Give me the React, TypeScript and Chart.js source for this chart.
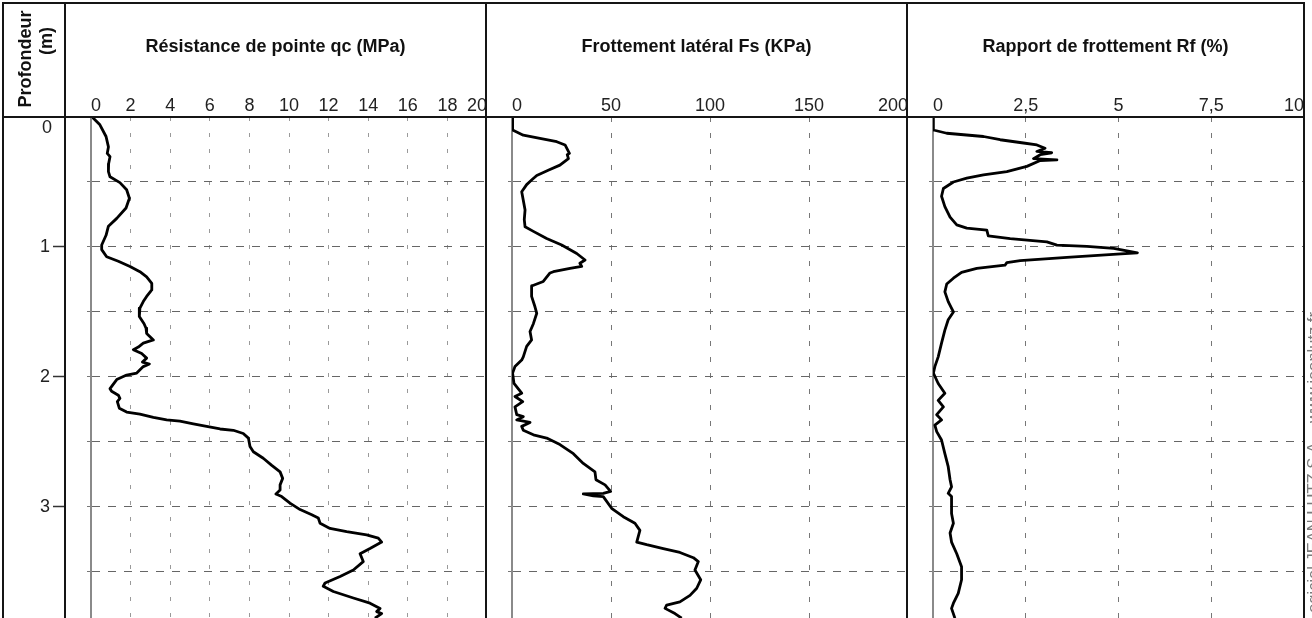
import React, { useEffect, useRef } from 'react';
import { Chart, registerables } from 'chart.js';

Chart.register(...registerables);

const FONT = "'Liberation Sans', Arial, Helvetica, sans-serif";
Chart.defaults.font.family = FONT;

// ---------- data ----------
const depthMax = 3.854;
const depthTickValues = [0, 1, 2, 3];
const depthTickLabels = ['0', '1', '2', '3'];

const qcTickLabels = ['0', '2', '4', '6', '8', '10', '12', '14', '16', '18', '20'];
const fsTickLabels = ['0', '50', '100', '150', '200'];
const rfTickLabels = ['0', '2,5', '5', '7,5', '10'];

const titles = [
  'Résistance de pointe qc (MPa)',
  'Frottement latéral Fs (KPa)',
  'Rapport de frottement Rf (%)',
];

const qcDepth = [0, 0.01, 0.06, 0.15, 0.23, 0.28, 0.305, 0.36, 0.42, 0.46, 0.505, 0.56, 0.625, 0.7, 0.78, 0.84, 0.91, 0.985, 1.02, 1.075, 1.11, 1.15, 1.19, 1.23, 1.28, 1.33, 1.38, 1.42, 1.47, 1.535, 1.59, 1.625, 1.665, 1.715, 1.74, 1.77, 1.79, 1.82, 1.855, 1.885, 1.9, 1.92, 1.97, 1.985, 2.02, 2.09, 2.11, 2.14, 2.165, 2.19, 2.24, 2.27, 2.285, 2.31, 2.33, 2.34, 2.36, 2.38, 2.4, 2.41, 2.435, 2.47, 2.535, 2.575, 2.625, 2.68, 2.73, 2.78, 2.83, 2.87, 2.9, 2.92, 2.97, 3.02, 3.06, 3.085, 3.125, 3.165, 3.19, 3.215, 3.24, 3.27, 3.32, 3.36, 3.42, 3.485, 3.535, 3.585, 3.61, 3.65, 3.7, 3.74, 3.78, 3.805, 3.82, 3.855];
const qcValue = [0.1, 0.12, 0.45, 0.76, 0.88, 0.82, 0.96, 0.89, 0.88, 0.96, 1.46, 1.8, 1.94, 1.77, 1.3, 0.88, 0.76, 0.54, 0.54, 0.79, 1.38, 1.97, 2.47, 2.81, 3.07, 3.07, 2.81, 2.64, 2.47, 2.44, 2.68, 2.78, 2.81, 3.15, 2.64, 2.39, 2.14, 2.56, 2.81, 2.6, 2.95, 2.64, 2.31, 1.8, 1.3, 0.96, 1.04, 1.38, 1.46, 1.33, 1.43, 1.8, 2.47, 3.15, 3.82, 4.49, 5.17, 5.84, 6.52, 7.19, 7.69, 7.95, 8.03, 8.2, 8.7, 9.13, 9.55, 9.68, 9.55, 9.55, 9.34, 9.63, 10.05, 10.56, 11.15, 11.48, 11.57, 12.07, 12.91, 13.92, 14.51, 14.68, 14.09, 13.59, 13.75, 13.25, 12.58, 11.82, 11.73, 12.24, 13.25, 14.09, 14.6, 14.43, 14.68, 14.34];

const fsDepth = [0, 0.1, 0.14, 0.165, 0.19, 0.215, 0.28, 0.29, 0.32, 0.37, 0.41, 0.45, 0.485, 0.52, 0.575, 0.64, 0.715, 0.79, 0.845, 0.88, 0.935, 0.985, 1.05, 1.1, 1.125, 1.15, 1.165, 1.19, 1.2, 1.265, 1.3, 1.38, 1.46, 1.51, 1.59, 1.65, 1.715, 1.765, 1.845, 1.87, 1.92, 1.97, 2.05, 2.125, 2.15, 2.19, 2.23, 2.29, 2.305, 2.33, 2.35, 2.38, 2.41, 2.445, 2.47, 2.52, 2.59, 2.665, 2.73, 2.79, 2.83, 2.88, 2.895, 2.9, 2.915, 2.92, 3.01, 3.075, 3.125, 3.18, 3.27, 3.29, 3.32, 3.35, 3.39, 3.42, 3.485, 3.56, 3.625, 3.68, 3.73, 3.755, 3.78, 3.82, 3.855];
const fsValue = [0.3, 0.3, 5.7, 14.1, 22.6, 26.8, 29, 27.9, 28.5, 24.2, 18.3, 12.5, 9.9, 7.4, 4.9, 5.7, 6.6, 6.2, 6.6, 10.8, 17.5, 25.1, 32.7, 36.9, 34.3, 35.2, 29.3, 20.9, 19.2, 15.8, 9.9, 9.9, 11.6, 12.5, 10.8, 9.1, 9.9, 7.4, 5.7, 4.9, 1.5, 0.3, 1.0, 4.9, 1.5, 5.4, 1.5, 2.4, 5.7, 2.4, 9.1, 4.9, 5.7, 10.8, 17.5, 24.2, 31, 36, 41.9, 42.4, 47, 49.8, 46.1, 36, 41.1, 46.1, 50.3, 56.2, 62.1, 64.6, 63, 68, 76.4, 84.8, 91.6, 94.1, 92.4, 95.3, 93.3, 89.9, 84.8, 78.1, 77.3, 82.3, 85.7];

const rfDepth = [0, 0.1, 0.125, 0.15, 0.175, 0.2, 0.215, 0.24, 0.265, 0.275, 0.29, 0.32, 0.33, 0.335, 0.38, 0.42, 0.445, 0.47, 0.5, 0.55, 0.61, 0.69, 0.77, 0.83, 0.855, 0.87, 0.915, 0.935, 0.96, 0.985, 0.995, 1.01, 1.045, 1.055, 1.08, 1.105, 1.12, 1.14, 1.165, 1.195, 1.24, 1.285, 1.345, 1.42, 1.5, 1.56, 1.64, 1.74, 1.845, 1.92, 1.97, 2.05, 2.125, 2.18, 2.23, 2.29, 2.33, 2.37, 2.42, 2.485, 2.59, 2.69, 2.79, 2.845, 2.895, 2.92, 3.05, 3.125, 3.2, 3.27, 3.36, 3.46, 3.56, 3.665, 3.74, 3.78, 3.855];
const rfValue = [0.01, 0.01, 0.37, 1.36, 1.81, 2.44, 2.8, 3.02, 2.8, 3.2, 2.89, 2.71, 3.34, 2.89, 2.53, 1.99, 1.36, 0.91, 0.55, 0.28, 0.23, 0.32, 0.46, 0.64, 0.91, 1.45, 1.49, 2.08, 3.07, 3.34, 4.15, 4.87, 5.51, 4.96, 3.61, 2.35, 1.99, 1.94, 1.18, 0.77, 0.55, 0.37, 0.32, 0.41, 0.55, 0.41, 0.32, 0.23, 0.14, 0.05, 0.01, 0.14, 0.32, 0.14, 0.28, 0.1, 0.23, 0.05, 0.1, 0.23, 0.32, 0.41, 0.46, 0.5, 0.41, 0.5, 0.5, 0.55, 0.46, 0.5, 0.64, 0.77, 0.77, 0.68, 0.55, 0.5, 0.59];

// ---------- layout constants ----------
const HEADER = 117;
const AXIS_W = 26;

type PanelProps = {
  left: number;
  width: number;
  xMax: number;
  xStep: number;
  tickLabels: string[];
  depth: number[];
  values: number[];
  vDash: number[];
  vColor: string;
};

function Panel({ left, width, xMax, xStep, tickLabels, depth, values, vDash, vColor }: PanelProps) {
  const ref = useRef<HTMLCanvasElement>(null);
  useEffect(() => {
    if (!ref.current) return;
    const chart = new Chart(ref.current, {
      type: 'scatter',
      data: {
        datasets: [
          {
            data: depth.map((d, i) => ({ x: values[i], y: d })),
            showLine: true,
            borderColor: '#000',
            borderWidth: 2.8,
            borderJoinStyle: 'round',
            pointRadius: 0,
            pointHoverRadius: 0,
            tension: 0,
            fill: false,
          } as any,
        ],
      },
      options: {
        animation: false,
        responsive: false,
        devicePixelRatio: 1,
        events: [],
        layout: { padding: 0 },
        plugins: { legend: { display: false }, tooltip: { enabled: false }, title: { display: false } },
        scales: {
          x: {
            type: 'linear',
            position: 'top',
            min: 0,
            max: xMax,
            ticks: {
              stepSize: xStep,
              padding: 0,
              align: 'inner',
              autoSkip: false,
              maxRotation: 0,
              minRotation: 0,
              color: '#222',
              font: { family: FONT, size: 18 },
              callback: (_v: any, i: number) => tickLabels[i],
            },
            grid: { color: vColor, lineWidth: 1, drawTicks: false },
            border: { display: false, dash: vDash },
            afterFit: (s: any) => {
              s.height = HEADER;
              s.paddingLeft = 0;
              s.paddingRight = 0;
            },
          } as any,
          y: {
            type: 'linear',
            position: 'left',
            reverse: true,
            min: 0,
            max: depthMax,
            ticks: { display: false, stepSize: 0.5, includeBounds: false },
            grid: { color: '#666', lineWidth: 1, drawTicks: true, tickLength: 4, tickColor: '#777' },
            border: { display: true, color: '#8a8a8a', width: 2, dash: [8, 8] },
            afterFit: (s: any) => {
              s.width = AXIS_W;
              s.paddingTop = 0;
              s.paddingBottom = 0;
            },
          } as any,
        },
      },
    });
    return () => chart.destroy();
  }, []);
  return (
    <canvas
      ref={ref}
      width={width}
      height={618}
      style={{ position: 'absolute', left, top: 0, width, height: 618, display: 'block' }}
    />
  );
}

const zeroLabelPlugin = {
  id: 'zeroLabel',
  afterDraw(chart: any) {
    const y = chart.scales.y;
    const ctx = chart.ctx;
    ctx.save();
    ctx.fillStyle = '#222';
    ctx.font = `18px ${FONT}`;
    ctx.textAlign = 'right';
    ctx.textBaseline = 'middle';
    ctx.fillText(depthTickLabels[0], 52, y.getPixelForValue(depthTickValues[0]) + 11);
    ctx.restore();
  },
};

function DepthAxis() {
  const ref = useRef<HTMLCanvasElement>(null);
  useEffect(() => {
    if (!ref.current) return;
    const chart = new Chart(ref.current, {
      type: 'scatter',
      data: { datasets: [] },
      options: {
        animation: false,
        responsive: false,
        devicePixelRatio: 1,
        events: [],
        layout: { padding: { top: HEADER, left: 0, right: 0, bottom: 0 } },
        plugins: { legend: { display: false }, tooltip: { enabled: false } },
        scales: {
          x: { display: false, min: 0, max: 1 },
          y: {
            type: 'linear',
            position: 'left',
            reverse: true,
            min: 0,
            max: depthMax,
            afterBuildTicks: (s: any) => {
              s.ticks = depthTickValues.map((v) => ({ value: v }));
            },
            ticks: {
              padding: 3,
              color: (c: any) => (c.tick && c.tick.value === 0 ? 'rgba(0,0,0,0)' : '#222'),
              font: { family: FONT, size: 18 },
              callback: (_v: any, i: number) => depthTickLabels[i],
            },
            grid: {
              drawOnChartArea: false,
              drawTicks: true,
              tickLength: 12,
              tickWidth: 1.5,
              tickColor: (c: any) => (c.tick && c.tick.value === 0 ? 'rgba(0,0,0,0)' : '#333'),
            },
            border: { display: false },
            afterFit: (s: any) => {
              s.width = 65;
              s.paddingTop = 0;
              s.paddingBottom = 0;
            },
          } as any,
        },
      },
      plugins: [zeroLabelPlugin],
    });
    return () => chart.destroy();
  }, []);
  return (
    <canvas
      ref={ref}
      width={70}
      height={618}
      style={{ position: 'absolute', left: 0, top: 0, width: 70, height: 618, display: 'block' }}
    />
  );
}

const line = (left: number, top: number, width: number, height: number, key: string) => (
  <div key={key} style={{ position: 'absolute', left, top, width, height, background: '#151515' }} />
);

const titleStyle = (left: number, width: number): React.CSSProperties => ({
  position: 'absolute',
  left,
  width,
  top: 37,
  textAlign: 'center',
  fontFamily: FONT,
  fontWeight: 'bold',
  fontSize: 18,
  lineHeight: '18px',
  color: '#111',
  whiteSpace: 'nowrap',
});

export default function App() {
  useEffect(() => {
    document.body.style.margin = '0';
  }, []);
  return (
    <div
      style={{
        position: 'fixed',
        left: 0,
        top: 0,
        width: 1312,
        height: 618,
        overflow: 'hidden',
        background: '#fff',
      }}
    >
      <DepthAxis />
      <Panel left={65} width={422} xMax={20} xStep={2} tickLabels={qcTickLabels} depth={qcDepth} values={qcValue} vDash={[4, 12]} vColor="#9a9a9a" />
      <Panel left={486} width={422} xMax={200} xStep={50} tickLabels={fsTickLabels} depth={fsDepth} values={fsValue} vDash={[5, 11]} vColor="#777" />
      <Panel left={907} width={397} xMax={10} xStep={2.5} tickLabels={rfTickLabels} depth={rfDepth} values={rfValue} vDash={[5, 11]} vColor="#777" />

      {line(2, 2, 1303, 2, 'top')}
      {line(2, 116, 1303, 2, 'header')}
      {line(2, 2, 2, 616, 'l0')}
      {line(64, 2, 2, 616, 'l1')}
      {line(485, 2, 2, 616, 'l2')}
      {line(906, 2, 2, 616, 'l3')}
      {line(1303, 2, 2, 616, 'l4')}

      <div style={titleStyle(66, 419)}>{titles[0]}</div>
      <div style={titleStyle(487, 419)}>{titles[1]}</div>
      <div style={titleStyle(908, 395)}>{titles[2]}</div>

      <div
        style={{
          position: 'absolute',
          left: 25,
          top: 59,
          transform: 'translate(-50%, -50%) rotate(-90deg)',
          fontFamily: FONT,
          fontWeight: 'bold',
          fontSize: 18,
          lineHeight: '18px',
          color: '#111',
          whiteSpace: 'nowrap',
        }}
      >
        Profondeur
      </div>
      <div
        style={{
          position: 'absolute',
          left: 46,
          top: 41,
          transform: 'translate(-50%, -50%) rotate(-90deg)',
          fontFamily: FONT,
          fontWeight: 'bold',
          fontSize: 18,
          lineHeight: '18px',
          color: '#111',
          whiteSpace: 'nowrap',
        }}
      >
        (m)
      </div>

      <div
        style={{
          position: 'absolute',
          left: 1305,
          top: 622,
          transformOrigin: 'left top',
          transform: 'rotate(-90deg)',
          fontFamily: FONT,
          fontSize: 16.5,
          lineHeight: '16px',
          color: '#7a7a7a',
          whiteSpace: 'nowrap',
        }}
      >
        Logiciel JEAN LUTZ S.A. - www.jeanlutz.fr
      </div>
    </div>
  );
}
